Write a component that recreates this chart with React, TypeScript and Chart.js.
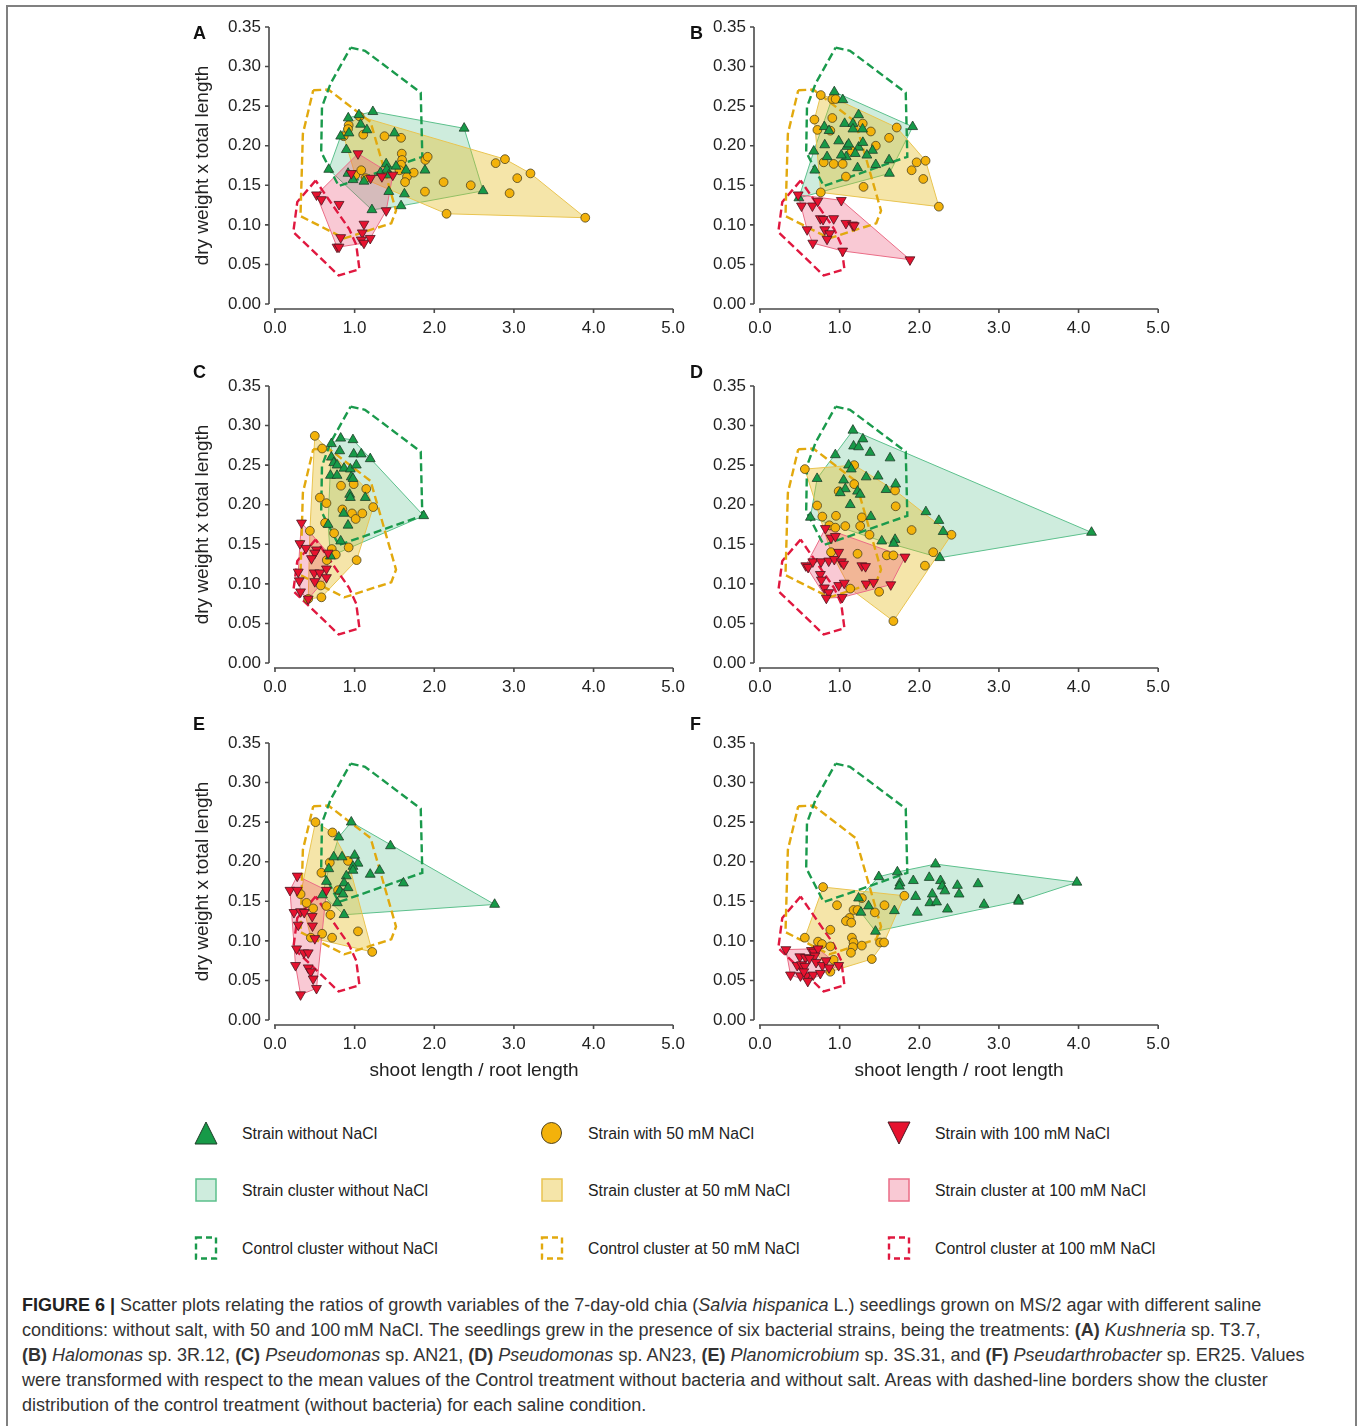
import React, { useEffect, useRef } from 'react';
import { Chart, registerables } from 'chart.js';

Chart.register(...registerables);

// ---------- tick values / labels ----------
const xTickValues = [0, 1, 2, 3, 4, 5];
const xTickLabels = ['0.0', '1.0', '2.0', '3.0', '4.0', '5.0'];
const yTickValues = [0, 0.05, 0.1, 0.15, 0.2, 0.25, 0.3, 0.35];
const yTickLabels = ['0.00', '0.05', '0.10', '0.15', '0.20', '0.25', '0.30', '0.35'];

const xTitle = 'shoot length / root length';
const yTitle = 'dry weight x total length';

// ---------- control clusters (dashed) ----------
const controlWithoutNaCl = [[0.95, 0.324], [1.13, 0.32], [1.83, 0.267], [1.85, 0.186], [0.8, 0.149], [0.58, 0.192], [0.59, 0.249], [0.7, 0.279]];
const control50mM = [[0.48, 0.27], [0.67, 0.271], [1.2, 0.23], [1.52, 0.118], [1.46, 0.102], [0.87, 0.083], [0.32, 0.111], [0.35, 0.215]];
const control100mM = [[0.51, 0.156], [0.28, 0.129], [0.23, 0.091], [0.8, 0.036], [1.06, 0.044], [1.02, 0.075], [0.93, 0.095]];

// ---------- panel A ----------
const aWithout = [[0.92,0.235],[1.054,0.239],[1.229,0.243],[1.075,0.227],[1.154,0.22],[0.929,0.216],[0.825,0.212],[1.5,0.216],[2.375,0.222],[0.896,0.195],[0.675,0.17],[0.917,0.165],[0.979,0.157],[1.117,0.155],[1.325,0.166],[1.396,0.177],[1.404,0.17],[1.429,0.163],[1.52,0.174],[1.646,0.169],[1.883,0.169],[1.429,0.142],[1.625,0.139],[1.583,0.124],[1.217,0.119],[2.613,0.143]];
const a50 = [[1.063,0.237],[0.925,0.226],[0.917,0.221],[0.863,0.212],[1.108,0.214],[1.375,0.212],[1.583,0.21],[1.592,0.19],[1.596,0.182],[1.583,0.176],[1.563,0.169],[1.658,0.161],[1.633,0.154],[1.742,0.166],[1.888,0.182],[1.917,0.186],[1.883,0.142],[2.117,0.154],[2.458,0.15],[2.154,0.114],[2.771,0.178],[2.888,0.183],[3.042,0.159],[2.946,0.14],[3.208,0.165],[3.896,0.109],[1.008,0.163],[1.083,0.169],[1.138,0.159]];
const a100 = [[1.042,0.19],[0.521,0.138],[0.583,0.132],[0.804,0.126],[0.958,0.165],[1.2,0.159],[1.342,0.161],[1.479,0.163],[1.396,0.118],[1.117,0.101],[1.096,0.09],[1.083,0.081],[1.117,0.077],[1.196,0.083],[0.825,0.084],[0.779,0.072],[0.804,0.072]];

// ---------- panel B ----------
const bWithout = [[0.933,0.268],[1.04,0.258],[1.238,0.239],[1.063,0.228],[1.167,0.228],[1.167,0.221],[1.288,0.221],[0.808,0.224],[0.867,0.219],[1.917,0.224],[0.675,0.193],[0.813,0.201],[0.988,0.206],[1.092,0.199],[1.113,0.202],[1.238,0.198],[1.292,0.204],[1.413,0.194],[1.342,0.188],[1.196,0.19],[1.083,0.186],[1.021,0.188],[0.842,0.186],[0.688,0.169],[1.225,0.172],[1.454,0.176],[1.621,0.182],[1.625,0.165],[0.488,0.134]];
const b50 = [[0.763,0.264],[0.908,0.259],[0.95,0.259],[0.683,0.233],[0.721,0.22],[0.908,0.235],[0.883,0.219],[1.29,0.228],[1.392,0.218],[1.717,0.223],[1.621,0.21],[1.454,0.2],[1.154,0.193],[0.8,0.179],[0.925,0.177],[1.038,0.177],[1.079,0.161],[1.3,0.148],[0.763,0.141],[1.904,0.169],[1.967,0.179],[2.079,0.181],[2.05,0.158],[2.246,0.123]];
const b100 = [[0.479,0.138],[0.521,0.124],[0.658,0.124],[0.725,0.13],[1.021,0.131],[0.758,0.108],[0.792,0.107],[0.925,0.108],[1.079,0.102],[1.163,0.1],[1.183,0.099],[0.592,0.094],[0.813,0.094],[0.875,0.089],[0.842,0.082],[0.663,0.077],[1.038,0.067],[1.883,0.056]];

// ---------- panel C ----------
const cWithout = [[0.708,0.277],[0.825,0.284],[0.979,0.282],[0.813,0.268],[0.988,0.264],[1.083,0.264],[1.196,0.258],[0.708,0.26],[0.738,0.253],[0.779,0.25],[0.867,0.246],[0.946,0.245],[1.021,0.25],[0.696,0.237],[0.779,0.237],[0.958,0.235],[0.979,0.233],[0.938,0.213],[0.946,0.209],[1.133,0.209],[0.863,0.189],[0.917,0.174],[0.667,0.175],[0.825,0.154],[0.696,0.135],[1.867,0.186]];
const c50 = [[0.5,0.287],[0.592,0.271],[0.563,0.209],[0.646,0.202],[0.829,0.224],[0.988,0.226],[1.146,0.22],[1.233,0.197],[0.846,0.194],[0.967,0.189],[1.096,0.189],[1.013,0.182],[0.629,0.177],[0.742,0.164],[0.438,0.167],[0.713,0.144],[0.763,0.137],[0.925,0.146],[0.65,0.13],[1.025,0.13],[0.575,0.098],[0.583,0.083],[0.417,0.081]];
const c100 = [[0.333,0.177],[0.313,0.151],[0.388,0.145],[0.521,0.143],[0.5,0.139],[0.458,0.132],[0.667,0.139],[0.292,0.115],[0.304,0.104],[0.492,0.114],[0.563,0.114],[0.646,0.119],[0.646,0.108],[0.5,0.103],[0.321,0.09],[0.417,0.081]];

// ---------- panel D ----------
const dWithout = [[1.167,0.294],[1.292,0.283],[1.175,0.274],[1.238,0.273],[1.383,0.266],[1.633,0.259],[0.946,0.263],[1.113,0.25],[1.146,0.245],[0.717,0.233],[1.05,0.231],[1.333,0.235],[1.483,0.236],[1.704,0.226],[1.583,0.219],[1.071,0.22],[1.008,0.215],[1.225,0.217],[1.258,0.213],[1.133,0.2],[1.392,0.185],[0.633,0.184],[2.083,0.191],[2.246,0.18],[2.3,0.166],[4.163,0.165],[1.529,0.154],[1.696,0.156],[1.679,0.151],[2.258,0.133]];
const d50 = [[0.563,0.245],[1.183,0.25],[1.183,0.226],[0.988,0.217],[1.696,0.218],[1.704,0.198],[0.717,0.199],[0.783,0.185],[0.954,0.186],[1.279,0.184],[1.071,0.173],[0.871,0.174],[0.946,0.171],[1.258,0.173],[1.375,0.162],[1.904,0.168],[2.404,0.162],[0.892,0.14],[1.225,0.138],[1.592,0.136],[1.675,0.136],[2.175,0.14],[2.071,0.123],[1.133,0.094],[1.496,0.09],[1.675,0.053]];
const d100 = [[0.821,0.17],[0.892,0.158],[0.946,0.16],[0.575,0.123],[0.604,0.121],[0.663,0.128],[0.767,0.128],[0.863,0.129],[0.933,0.131],[0.988,0.14],[1.021,0.128],[1.05,0.125],[1.279,0.123],[1.325,0.122],[1.821,0.134],[0.758,0.112],[0.771,0.105],[0.808,0.095],[0.863,0.089],[0.833,0.082],[0.988,0.098],[1.058,0.101],[1.333,0.1],[1.425,0.102],[1.642,0.099],[1.033,0.083]];

// ---------- panel E ----------
const eWithout = [[0.958,0.25],[0.8,0.231],[1.45,0.22],[0.738,0.206],[0.842,0.206],[1.0,0.208],[1.042,0.198],[0.675,0.191],[0.979,0.194],[0.979,0.189],[1.196,0.184],[1.313,0.189],[0.896,0.182],[0.646,0.175],[0.867,0.173],[0.917,0.167],[0.813,0.163],[0.854,0.159],[0.596,0.158],[0.783,0.148],[0.867,0.133],[1.613,0.173],[2.758,0.146]];
const e50 = [[0.508,0.25],[0.721,0.237],[0.688,0.199],[0.583,0.186],[0.917,0.201],[0.792,0.164],[0.321,0.159],[0.396,0.148],[0.479,0.141],[0.646,0.144],[0.696,0.133],[1.042,0.112],[0.592,0.109],[0.45,0.104],[0.717,0.104],[1.221,0.086]];
const e100 = [[0.279,0.182],[0.188,0.164],[0.279,0.164],[0.646,0.164],[0.238,0.136],[0.321,0.137],[0.367,0.136],[0.467,0.131],[0.292,0.12],[0.471,0.119],[0.5,0.103],[0.271,0.09],[0.363,0.085],[0.417,0.085],[0.258,0.069],[0.417,0.066],[0.45,0.061],[0.479,0.052],[0.521,0.04],[0.321,0.032]];

// ---------- panel F ----------
const fWithout = [[2.204,0.197],[1.725,0.187],[1.492,0.181],[1.758,0.173],[1.75,0.169],[1.925,0.176],[2.125,0.18],[2.267,0.176],[2.288,0.169],[2.321,0.163],[2.479,0.17],[2.5,0.159],[2.738,0.172],[3.979,0.174],[1.954,0.156],[2.163,0.159],[2.133,0.148],[2.217,0.149],[2.354,0.14],[1.975,0.136],[2.813,0.146],[3.246,0.152],[3.246,0.15],[1.238,0.154],[1.363,0.144],[1.267,0.136],[1.688,0.138],[1.45,0.112]];
const f50 = [[0.792,0.168],[0.967,0.145],[1.279,0.154],[1.813,0.157],[1.563,0.145],[1.442,0.136],[1.175,0.139],[1.225,0.139],[1.125,0.129],[1.079,0.125],[1.146,0.123],[0.883,0.114],[0.563,0.104],[0.729,0.099],[0.779,0.096],[0.883,0.093],[1.154,0.104],[1.175,0.098],[1.167,0.092],[1.142,0.085],[1.279,0.094],[1.508,0.098],[1.558,0.098],[1.404,0.077],[0.925,0.076],[0.883,0.061]];
const f100 = [[0.325,0.089],[0.383,0.057],[0.5,0.08],[0.571,0.079],[0.646,0.088],[0.675,0.086],[0.729,0.09],[0.688,0.081],[0.621,0.078],[0.467,0.069],[0.521,0.07],[0.563,0.068],[0.704,0.073],[0.783,0.069],[0.829,0.075],[0.867,0.066],[0.988,0.069],[0.508,0.056],[0.583,0.056],[0.667,0.057],[0.758,0.059],[0.6,0.049],[0.55,0.061]];

const panelLetters = ['A', 'B', 'C', 'D', 'E', 'F'];
const panelSeries = [
  [aWithout, a50, a100],
  [bWithout, b50, b100],
  [cWithout, c50, c100],
  [dWithout, d50, d100],
  [eWithout, e50, e100],
  [fWithout, f50, f100],
];

const legendLabels = [
  ['Strain without NaCl', 'Strain cluster without NaCl', 'Control cluster without NaCl'],
  ['Strain with 50 mM NaCl', 'Strain cluster at 50 mM NaCl', 'Control cluster at 50 mM NaCl'],
  ['Strain with 100 mM NaCl', 'Strain cluster at 100 mM NaCl', 'Control cluster at 100 mM NaCl'],
];

// ---------- styles ----------
const FONT = "'Liberation Sans', Arial, Helvetica, sans-serif";
const MARK_FILL = ['#179a48', '#f3b20a', '#e6122f'];
const MARK_EDGE = ['#1f3d28', '#4d4220', '#4a1620'];
const HULL_FILL = ['rgba(60,180,120,0.25)', 'rgba(230,190,40,0.40)', 'rgba(235,60,100,0.28)'];
const HULL_EDGE = ['#5cc08c', '#e9c450', '#ea6c86'];
const DASH = ['#1a9a4c', '#e2a90e', '#e0183f'];

Chart.defaults.font.family = FONT;
Chart.defaults.color = '#222';

function convexHull(pts: number[][]): number[][] {
  const p = pts.slice().sort((a, b) => a[0] - b[0] || a[1] - b[1]);
  const cross = (o: number[], a: number[], b: number[]) => (a[0] - o[0]) * (b[1] - o[1]) - (a[1] - o[1]) * (b[0] - o[0]);
  const lower: number[][] = [];
  for (const q of p) {
    while (lower.length >= 2 && cross(lower[lower.length - 2], lower[lower.length - 1], q) <= 0) lower.pop();
    lower.push(q);
  }
  const upper: number[][] = [];
  for (let i = p.length - 1; i >= 0; i--) {
    const q = p[i];
    while (upper.length >= 2 && cross(upper[upper.length - 2], upper[upper.length - 1], q) <= 0) upper.pop();
    upper.push(q);
  }
  upper.pop();
  lower.pop();
  return lower.concat(upper);
}

const toXY = (pts: number[][]) => pts.map(([x, y]) => ({ x, y }));
const closed = (pts: number[][]) => toXY([...pts, pts[0]]);

const offsetAxes = {
  id: 'offsetAxes',
  beforeDatasetsDraw(chart: any) {
    const { ctx, chartArea, scales } = chart;
    const xs = scales.x;
    const ys = scales.y;
    const ax = chartArea.left - 6;
    const ay = chartArea.bottom + 5;
    ctx.save();
    ctx.strokeStyle = '#4a4a4a';
    ctx.lineWidth = 1.6;
    ctx.beginPath();
    ctx.moveTo(ax, ys.getPixelForValue(yTickValues[yTickValues.length - 1]));
    ctx.lineTo(ax, ys.getPixelForValue(yTickValues[0]));
    for (const v of yTickValues) {
      const py = ys.getPixelForValue(v);
      ctx.moveTo(ax - 4, py);
      ctx.lineTo(ax, py);
    }
    ctx.moveTo(xs.getPixelForValue(xTickValues[0]) - 1, ay);
    ctx.lineTo(xs.getPixelForValue(xTickValues[xTickValues.length - 1]), ay);
    for (const v of xTickValues) {
      const px = xs.getPixelForValue(v);
      ctx.moveTo(px, ay);
      ctx.lineTo(px, ay + 4);
    }
    ctx.stroke();
    ctx.restore();
  },
};

type PanelProps = {
  index: number;
  left: number;
  top: number;
  yW: number;
  xH: number;
  plotW: number;
  plotH: number;
  showY: boolean;
  showX: boolean;
};

const PAD_TOP = 26;
const PAD_RIGHT = 24;

function Panel({ index, left, top, yW, xH, plotW, plotH, showY, showX }: PanelProps) {
  const ref = useRef<HTMLCanvasElement>(null);
  const width = yW + plotW + PAD_RIGHT;
  const height = PAD_TOP + plotH + xH;
  useEffect(() => {
    const series = panelSeries[index];
    const datasets: any[] = [];
    const pointStyles = ['triangle', 'circle', 'triangle'];
    const rotations = [0, 0, 180];
    const radii = [5.7, 4.4, 5.7];
    const orders = [1, 2, 0];
    series.forEach((s, i) => {
      datasets.push({
        type: 'scatter',
        label: legendLabels[i][0],
        data: toXY(s),
        pointStyle: pointStyles[i],
        rotation: rotations[i],
        radius: radii[i],
        backgroundColor: MARK_FILL[i],
        borderColor: MARK_EDGE[i],
        borderWidth: 0.8,
        order: orders[i],
        clip: false,
      });
    });
    [controlWithoutNaCl, control50mM, control100mM].forEach((c, i) => {
      datasets.push({
        type: 'line',
        label: legendLabels[i][2],
        data: closed(c),
        borderColor: DASH[i],
        borderWidth: 2.4,
        borderDash: [8, 4],
        fill: false,
        pointRadius: 0,
        tension: 0,
        order: 3 + i,
        clip: false,
      });
    });
    series.forEach((s, i) => {
      datasets.push({
        type: 'line',
        label: legendLabels[i][1],
        data: closed(convexHull(s)),
        borderColor: HULL_EDGE[i],
        borderWidth: 1,
        backgroundColor: HULL_FILL[i],
        fill: 'shape',
        pointRadius: 0,
        tension: 0,
        order: 8 - i,
        clip: false,
      });
    });

    const padding = { left: 0, top: PAD_TOP, right: PAD_RIGHT, bottom: 0 };
    const chart: any = new Chart(ref.current as HTMLCanvasElement, {
      type: 'scatter',
      data: { datasets },
      options: {
        responsive: false,
        animation: false,
        devicePixelRatio: 1,
        events: [],
        layout: { padding },
        plugins: { legend: { display: false }, tooltip: { enabled: false } },
        scales: {
          x: {
            type: 'linear',
            min: xTickValues[0],
            max: xTickValues[xTickValues.length - 1],
            afterBuildTicks: (s: any) => { s.ticks = xTickValues.map((v) => ({ value: v })); },
            afterFit: (s: any) => { s.height = xH; },
            ticks: {
              autoSkip: false,
              maxRotation: 0,
              padding: 14,
              font: { size: 17 },
              color: '#222',
              callback: (_v: any, i: number) => xTickLabels[i],
            },
            grid: { display: false, drawTicks: false },
            border: { display: false },
            title: {
              display: showX,
              text: xTitle,
              font: { size: 19 },
              color: '#222',
              padding: { top: 4, bottom: 4 },
            },
          },
          y: {
            type: 'linear',
            min: yTickValues[0],
            max: yTickValues[yTickValues.length - 1],
            afterBuildTicks: (s: any) => { s.ticks = yTickValues.map((v) => ({ value: v })); },
            afterFit: (s: any) => { s.width = yW; },
            ticks: {
              autoSkip: false,
              padding: 14,
              font: { size: 17 },
              color: '#222',
              callback: (_v: any, i: number) => yTickLabels[i],
            },
            grid: { display: false, drawTicks: false },
            border: { display: false },
            title: {
              display: showY,
              text: yTitle,
              font: { size: 19 },
              color: '#222',
              padding: { top: 4, bottom: 4 },
            },
          },
        },
      },
      plugins: [offsetAxes],
    } as any);
    // make the plot area land exactly where it should inside the canvas
    for (let k = 0; k < 4; k++) {
      const a = chart.chartArea;
      const dt = a.top - PAD_TOP;
      const dr = (width - PAD_RIGHT) - a.right;
      if (Math.abs(dt) < 0.25 && Math.abs(dr) < 0.25) break;
      padding.top -= dt;
      padding.right -= dr;
      chart.options.layout.padding = { ...padding };
      chart.update();
    }
    return () => chart.destroy();
  }, [index]);
  return (
    <canvas
      ref={ref}
      width={width}
      height={height}
      style={{ position: 'absolute', left: left - yW, top: top - PAD_TOP, width, height }}
    />
  );
}

function LegendMarker({ col, row }: { col: number; row: number }) {
  const fill = MARK_FILL[col];
  const edge = MARK_EDGE[col];
  if (row === 0) {
    if (col === 0) return <svg width="24" height="24"><polygon points="12,1 23,23 1,23" fill={fill} stroke={edge} strokeWidth="1" /></svg>;
    if (col === 1) return <svg width="24" height="24"><ellipse cx="11.5" cy="12" rx="10" ry="10.5" fill={fill} stroke={edge} strokeWidth="1" /></svg>;
    return <svg width="24" height="24"><polygon points="1,1 23,1 12,23" fill={fill} stroke={edge} strokeWidth="1" /></svg>;
  }
  if (row === 1) {
    return <svg width="24" height="24"><rect x="2" y="1" width="20" height="22" fill={HULL_FILL[col]} stroke={HULL_EDGE[col]} strokeWidth="1.5" /></svg>;
  }
  return <svg width="24" height="24"><rect x="2" y="1.5" width="20" height="21" fill="none" stroke={DASH[col]} strokeWidth="2.4" strokeDasharray="6,4" /></svg>;
}

export default function App() {
  const colLeft = [275, 760];
  const rowTop = [27, 386, 743];
  const plotW = 400;
  const plotH = 277;
  const legendMarkerX = [194, 540, 887];
  const legendTextX = [242, 588, 935];
  const legendRowY = [1134, 1191, 1249];
  const letterTop = [24, 363, 715];
  const letterLeft = [193, 690];

  return (
    <div style={{ position: 'fixed', left: 0, top: 0, width: 1357, height: 1426, overflow: 'hidden', background: '#fff', fontFamily: FONT, color: '#222' }}>
      <div style={{ position: 'absolute', left: 6, top: 5, width: 1351, height: 1440, boxSizing: 'border-box', border: '2px solid #808080' }} />
      {panelLetters.map((L, i) => {
        const col = i % 2;
        const row = Math.floor(i / 2);
        return (
          <React.Fragment key={L}>
            <Panel
              index={i}
              left={colLeft[col]}
              top={rowTop[row]}
              yW={col === 0 ? 88 : 60}
              xH={row === 2 ? 66 : 40}
              plotW={plotW}
              plotH={plotH}
              showY={col === 0}
              showX={row === 2}
            />
            <div style={{ position: 'absolute', left: letterLeft[col], top: letterTop[row], fontSize: 18, fontWeight: 'bold', lineHeight: '18px', color: '#111' }}>{L}</div>
          </React.Fragment>
        );
      })}
      {legendLabels.map((colLabels, col) =>
        colLabels.map((txt, row) => (
          <React.Fragment key={txt}>
            <div style={{ position: 'absolute', left: legendMarkerX[col], top: legendRowY[row] - 13, width: 24, height: 24 }}>
              <LegendMarker col={col} row={row} />
            </div>
            <div style={{ position: 'absolute', left: legendTextX[col], top: legendRowY[row] - 10, fontSize: 15.8, lineHeight: '20px', whiteSpace: 'nowrap', color: '#222' }}>{txt}</div>
          </React.Fragment>
        ))
      )}
      <div style={{ position: 'absolute', left: 22, top: 1293, fontSize: 18, lineHeight: '25px', color: '#333', whiteSpace: 'nowrap' }}>
        <div><b style={{ color: '#222' }}>FIGURE 6 |</b> Scatter plots relating the ratios of growth variables of the 7-day-old chia (<i>Salvia hispanica</i> L.) seedlings grown on MS/2 agar with different saline</div>
        <div>conditions: without salt, with 50 and 100{'\u2009'}mM NaCl. The seedlings grew in the presence of six bacterial strains, being the treatments: <b>(A)</b> <i>Kushneria</i> sp. T3.7,</div>
        <div><b>(B)</b> <i>Halomonas</i> sp. 3R.12, <b>(C)</b> <i>Pseudomonas</i> sp. AN21, <b>(D)</b> <i>Pseudomonas</i> sp. AN23, <b>(E)</b> <i>Planomicrobium</i> sp. 3S.31, and <b>(F)</b> <i>Pseudarthrobacter</i> sp. ER25. Values</div>
        <div>were transformed with respect to the mean values of the Control treatment without bacteria and without salt. Areas with dashed-line borders show the cluster</div>
        <div>distribution of the control treatment (without bacteria) for each saline condition.</div>
      </div>
    </div>
  );
}
